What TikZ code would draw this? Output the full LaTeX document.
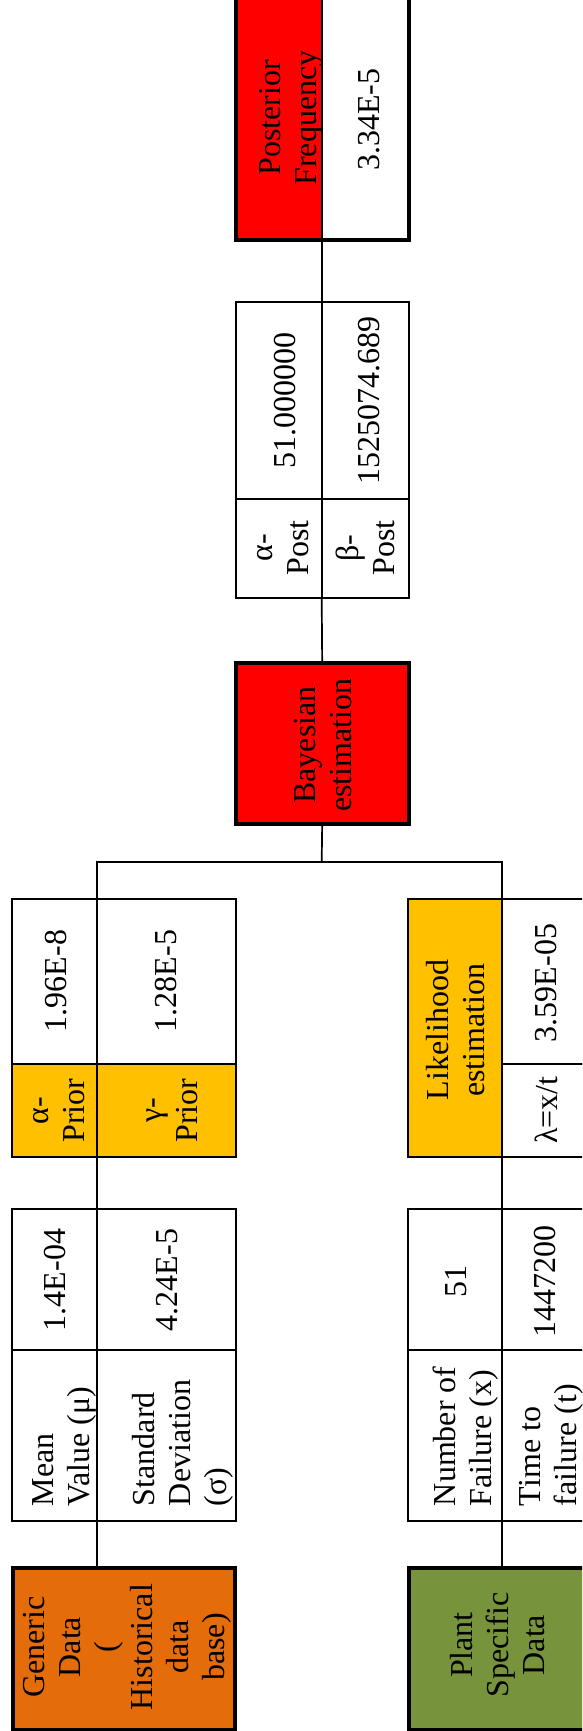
\documentclass[tikz,border=0pt]{standalone}
\usepackage{fontspec}
\setmainfont{Liberation Serif}
\usetikzlibrary{fit}
\definecolor{cred}{HTML}{FF0000}
\definecolor{corange}{HTML}{FFC000}
\definecolor{cgen}{HTML}{E46C0A}
\definecolor{cgreen}{HTML}{77933C}
\tikzset{
  cell/.style={draw=black, line width=1.7pt, inner sep=0pt, outer sep=0pt},
  thickbox/.style={draw=black, line width=3.7pt, inner sep=0pt, outer sep=0pt},
  conn/.style={draw=black, line width=1.7pt},
  txt/.style={rotate=90, inner sep=0pt, outer sep=0pt, align=center, font=\fontsize{32}{36}\selectfont},
  ltxt/.style={txt, align=left, anchor=west},
}
\begin{document}
\begin{tikzpicture}[x=1pt,y=-1pt]
\useasboundingbox (0,0) rectangle (582,1731);
\clip (0,0) rectangle (582,1731);
\fill[white] (0,0) rectangle (582,1731);
% ---- centre column ----
\node[cell, fill=cred, fit={(235.7,-3) (321.7,240)}] (postL) {};
\node[cell, fill=white, fit={(321.7,-3) (408.7,240)}] (postR) {};
\node[thickbox, fit={(235.7,-3) (408.7,240)}] (postBox) {};
\node[cell, fit={(235.7,302) (321.7,499)}] (apv) {};
\node[cell, fit={(321.7,302) (408.7,499)}] (bpv) {};
\node[cell, fit={(235.7,499) (321.7,598)}] (apl) {};
\node[cell, fit={(321.7,499) (408.7,598)}] (bpl) {};
\node[thickbox, fill=cred, fit={(235.7,663) (408.7,824)}] (bayes) {};
% ---- left group ----
\node[cell, fit={(12,899) (97,1064)}] (pav) {};
\node[cell, fit={(97,899) (236,1064)}] (pgv) {};
\node[cell, fill=corange, fit={(12,1064) (97,1157)}] (pal) {};
\node[cell, fill=corange, fit={(97,1064) (236,1157)}] (pgl) {};
\node[cell, fit={(12,1209) (97,1350)}] (mvv) {};
\node[cell, fit={(97,1209) (236,1350)}] (sdv) {};
\node[cell, fit={(12,1350) (97,1521)}] (mvl) {};
\node[cell, fit={(97,1350) (236,1521)}] (sdl) {};
\node[thickbox, fill=cgen, fit={(13,1568) (235,1729.5)}] (gen) {};
% ---- right group ----
\node[cell, fill=corange, fit={(408.3,899) (502,1157)}] (lik) {};
\node[cell, fit={(502,899) (589,1064)}] (lv) {};
\node[cell, fit={(502,1064) (589,1157)}] (lf) {};
\node[cell, fit={(408.3,1209) (502,1350)}] (nfv) {};
\node[cell, fit={(502,1209) (589,1350)}] (ttv) {};
\node[cell, fit={(408.3,1350) (502,1521)}] (nfl) {};
\node[cell, fit={(502,1350) (589,1521)}] (ttl) {};
\node[thickbox, fill=cgreen, fit={(409.3,1568) (589,1729.5)}] (plant) {};
% ---- connectors ----
\coordinate (j) at (321.7,862);
\draw[conn] (postL.south east) -- (apv.north east);
\draw[conn] (apl.south east) -- (bayes.north);
\draw[conn] (bayes.south) -- (j);
\draw[conn] (pav.north east) -- (pav.north east |- j) -- (lik.north east |- j) -- (lik.north east);
\draw[conn] (pal.south east) -- (mvv.north east);
\draw[conn] (mvl.south east) -- (mvl.south east |- gen.north);
\draw[conn] (lik.south east) -- (nfv.north east);
\draw[conn] (nfl.south east) -- (nfl.south east |- plant.north);
% ---- texts ----
\node[txt] (tpost) at (291.5,118) {Posterior\\Frequency};
\node[txt] (tpostv) at (369.5,119.5) {3.34E-5};
\node[txt] (tapv) at (285,400.5) {51.000000};
\node[txt] (tbpv) at (369,400) {1525074.689};
\node[txt] (tapl) at (283,548) {α-\\Post};
\node[txt] (tbpl) at (365,548) {β-\\Post};
\node[txt] (tbayes) at (323,745) {Bayesian\\estimation};
\node[txt] (tpav) at (55.7,981) {1.96E-8};
\node[txt] (tpgv) at (166,981) {1.28E-5};
\node[txt] (tpal) at (59,1110.5) {α-\\Prior};
\node[txt] (tpgl) at (172,1110.5) {γ-\\Prior};
\node[txt] (tlik) at (455.5,1030) {Likelihood\\estimation};
\node[txt] (tlv) at (546,983) {3.59E-05};
\node[txt] (tlf) at (546,1110) {λ=x/t};
\node[txt] (tmvv) at (55,1280) {1.4E-04};
\node[txt] (tsdv) at (167,1280) {4.24E-5};
\node[ltxt] (tmvl) at (64,1506) {Mean\\Value (μ)};
\node[ltxt] (tsdl) at (183,1506) {Standard\\Deviation\\(σ)};
\node[txt] (tnfv) at (456,1281) {51};
\node[txt] (tttv) at (545.5,1281) {1447200};
\node[ltxt] (tnfl) at (466,1506) {Number of\\Failure (x)};
\node[ltxt] (tttl) at (551,1506) {Time to\\failure (t)};
\node[txt] (tgen) at (127,1647) {Generic\\Data\\(\\Historical\\data\\base)};
\node[txt] (tplant) at (498,1645) {Plant\\Specific\\Data};
\end{tikzpicture}
\end{document}
